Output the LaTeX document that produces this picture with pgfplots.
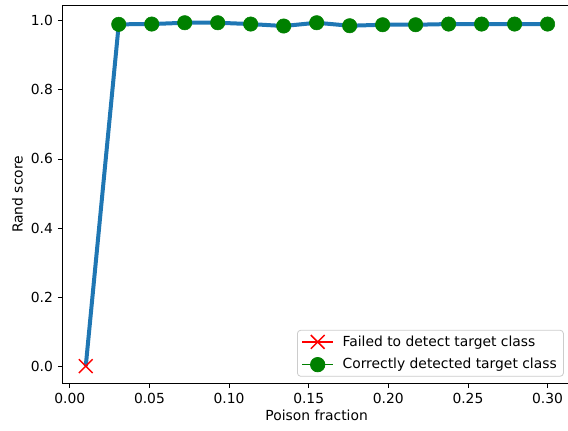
\documentclass[border=0pt]{standalone}
\usepackage{pgfplots}
\pgfplotsset{compat=1.18}
\usepackage{fontspec}
\setmainfont{DejaVu Sans}
\definecolor{tabblue}{HTML}{1F77B4}
\definecolor{mplgreen}{HTML}{008000}
\definecolor{mplred}{HTML}{FF0000}
\begin{document}
\fontsize{10.4}{12.5}\selectfont
\begin{tikzpicture}
\begin{axis}[
  at={(0,0)}, anchor=south west,
  scale only axis,
  width=381pt, height=283.5pt,
  xmin=-0.0045, xmax=0.3145,
  ymin=-0.0498, ymax=1.0446,
  xtick={0,0.05,0.1,0.15,0.2,0.25,0.3},
  ytick={0,0.2,0.4,0.6,0.8,1.0},
  xticklabel style={/pgf/number format/fixed,/pgf/number format/fixed zerofill,/pgf/number format/precision=2},
  yticklabel style={/pgf/number format/fixed,/pgf/number format/fixed zerofill,/pgf/number format/precision=1},
  /pgf/number format/assume math mode=true,
  scaled ticks=false,
  tick align=outside,
  tick pos=left,
  major tick length=3.6pt,
  every tick/.style={black, line width=0.6pt},
  axis line style={black, line width=0.6pt},
  xlabel={Poison fraction},
  ylabel={Rand score},
  xlabel style={yshift=2pt},
  ylabel style={yshift=-1pt},
  legend cell align=left,
  legend style={at={(0.9866,0.0176)}, anchor=south east,
    draw=black!20, fill=white, fill opacity=0.8, text opacity=1,
    rounded corners=2.5pt, line width=0.6pt,
    inner xsep=3pt, inner ysep=2pt, row sep=3.6pt,
    /tikz/every odd column/.append style={column sep=4.5pt},
    font=\fontsize{10.4}{12.5}\selectfont},
]
\addplot[color=tabblue, line width=3pt, line join=round, forget plot] coordinates {
(0.01,0)
(0.030714,0.9896)
(0.051429,0.9904)
(0.072143,0.9942)
(0.092857,0.9942)
(0.113571,0.9904)
(0.134286,0.9847)
(0.155,0.9942)
(0.175714,0.9855)
(0.196429,0.9884)
(0.217143,0.9884)
(0.237857,0.9904)
(0.258571,0.9904)
(0.279286,0.9904)
(0.30,0.9904)
};
\addplot[color=mplred, only marks, mark=x, mark size=7.3pt, line width=1.1pt,
  legend image code/.code={
    \draw[mplred, opacity=1, line width=1.1pt] (0pt,0pt) -- (23.3pt,0pt);
    \draw[mplred, opacity=1, line width=1.1pt] plot[mark=x, mark size=7.3pt] coordinates {(11.65pt,0pt)};
  }] coordinates {
(0.01,0)
};
\addlegendentry{Failed to detect target class}
\addplot[color=mplgreen, only marks, mark=*, mark size=5.4pt, mark options={draw=mplgreen, fill=mplgreen},
  legend image code/.code={
    \draw[mplgreen, opacity=1, line width=1.1pt] (0pt,0pt) -- (23.3pt,0pt);
    \fill[mplgreen, opacity=1] (11.65pt,0pt) circle (5.4pt);
  }] coordinates {
(0.030714,0.9896)
(0.051429,0.9904)
(0.072143,0.9942)
(0.092857,0.9942)
(0.113571,0.9904)
(0.134286,0.9847)
(0.155,0.9942)
(0.175714,0.9855)
(0.196429,0.9884)
(0.217143,0.9884)
(0.237857,0.9904)
(0.258571,0.9904)
(0.279286,0.9904)
(0.30,0.9904)
};
\addlegendentry{Correctly detected target class}
\end{axis}
\pgfresetboundingbox
\useasboundingbox (-47pt,-35pt) rectangle (379pt,287.5pt);
\end{tikzpicture}
\end{document}
